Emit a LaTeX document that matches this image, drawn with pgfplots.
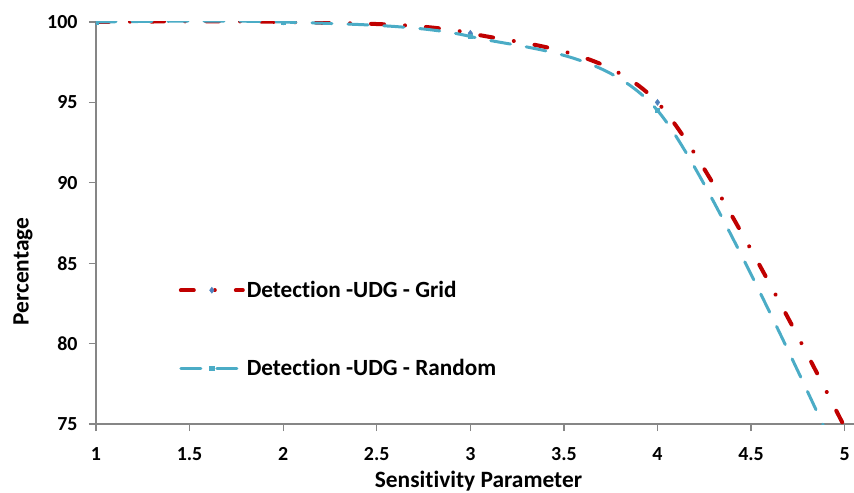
\documentclass[border=0pt]{standalone}
\usepackage{fontspec}
\setmainfont{Carlito}[Ligatures=NoCommon]
\usepackage{pgfplots}
\pgfplotsset{compat=1.18}
\definecolor{gridred}{HTML}{C00000}
\definecolor{randblue}{HTML}{4BACC6}
\definecolor{markblue}{HTML}{4F81BD}
\definecolor{axgray}{HTML}{868686}
\begin{document}
\begin{tikzpicture}
\path[use as bounding box] (-96bp,-69bp) rectangle (758bp,424bp);
\begin{axis}[
  scale only axis,
  width=758bp, height=402bp,
  xmin=1, xmax=5.05, ymin=75, ymax=100,
  xtick={1,1.5,2,2.5,3,3.5,4,4.5,5},
  ytick={75,80,85,90,95,100},
  axis lines*=left,
  axis line style={axgray, line width=1.5bp},
  tick align=outside,
  major tick length=7bp,
  tick style={axgray, line width=1.2bp},
  /pgf/number format/assume math mode=true,
  ticklabel style={font=\fontsize{20}{20}\selectfont\bfseries},
  yticklabel style={xshift=-8bp},
  xticklabel style={yshift=-13bp},
  xlabel={Sensitivity Parameter},
  ylabel={Percentage},
  every axis x label/.style={at={(axis description cs:0.5046,-0.142)}, anchor=center,
    font=\fontsize{23.5}{23.5}\selectfont\bfseries},
  every axis y label/.style={at={(axis description cs:-0.0963,0.379)}, rotate=90, anchor=center,
    font=\fontsize{23.5}{23.5}\selectfont\bfseries},
  clip marker paths=true,
  legend cell align=left,
  legend style={draw=none, fill=none, at={(axis description cs:0.109,0.236)}, anchor=west,
    row sep=56bp, inner xsep=0pt, inner ysep=0pt,
    font=\fontsize{23.3}{23.3}\selectfont\bfseries},
  legend image code/.code={
    \draw[#1, mark repeat=2, mark phase=2] plot coordinates {(0bp,0bp) (31bp,0bp) (62bp,0bp)};
  },
]
\addplot[gridred, line width=4bp, line cap=round, smooth, tension=0.5,
  dash pattern=on 13bp off 21bp on 0.01bp off 21bp,
  mark=diamond*, mark size=3bp, mark options={solid, fill=markblue, draw=markblue, line width=0.5bp}]
  coordinates {(1,100) (2,100) (3,99.3) (4,95.0) (5,74.8)};
\addlegendentry{Detection -UDG - Grid}
\addplot[randblue, line width=3bp, line cap=round, smooth, tension=0.5,
  dash pattern=on 20bp off 16bp,
  mark=square*, mark size=2.2bp, mark options={solid, fill=randblue, draw=randblue, line width=0.5bp}]
  coordinates {(1,100) (2,100) (3,99.1) (4,94.5) (5,72.0)};
\addlegendentry{Detection -UDG - Random}
\end{axis}
\end{tikzpicture}
\end{document}
